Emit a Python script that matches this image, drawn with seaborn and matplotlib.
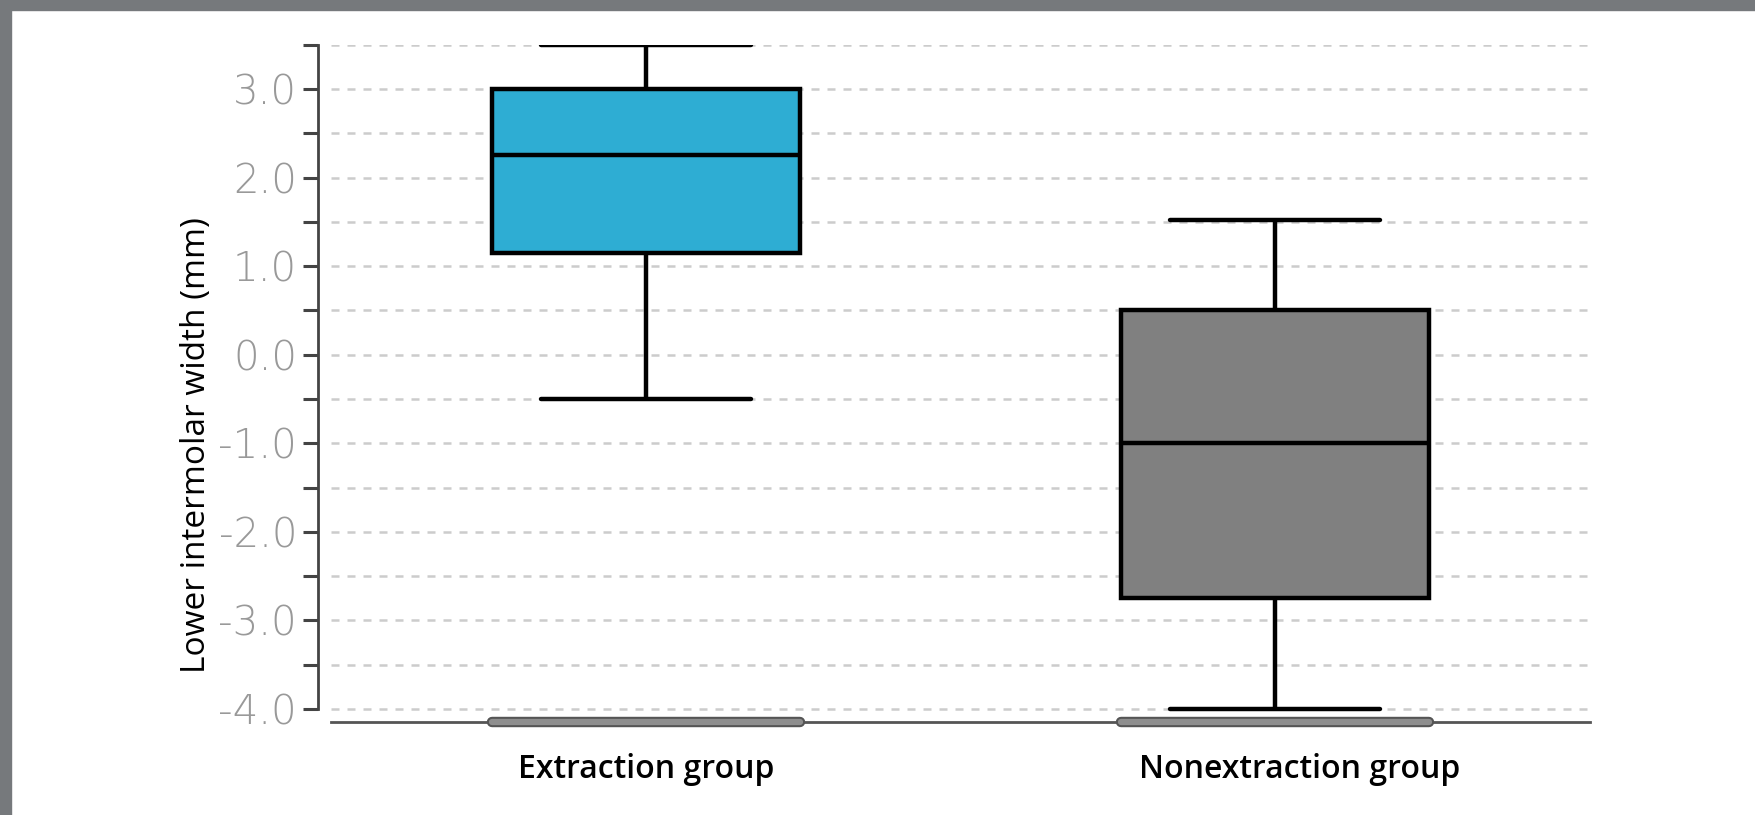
import matplotlib
matplotlib.use("Agg")
import matplotlib.pyplot as plt
import matplotlib.transforms as mtransforms
import pandas as pd
import seaborn as sns
from matplotlib.patches import Rectangle

# five-number summaries: lower whisker, Q1, median, Q3, upper whisker
groups = ["Extraction group", "Nonextraction group"]
extraction = [-0.5, 1.15, 2.25, 3.0, 3.5]
nonextraction = [-4.0, -2.75, -1.0, 0.5, 1.52]
box_colors = ["#2eadd3", "#808080"]
ytick_major = [-4.0, -3.0, -2.0, -1.0, 0.0, 1.0, 2.0, 3.0]
ytick_labels = ["-4.0", "-3.0", "-2.0", "-1.0", "0.0", "1.0", "2.0", "3.0"]
ytick_minor = [-3.5, -2.5, -1.5, -0.5, 0.5, 1.5, 2.5, 3.5]
ylabel = "Lower intermolar width (mm)"

df = pd.DataFrame({
    "group": [groups[0]] * len(extraction) + [groups[1]] * len(nonextraction),
    "value": extraction + nonextraction,
})

sns.set_style("white")
W, H = 1756, 815
fig = plt.figure(figsize=(W / 100, H / 100), dpi=100)
ax = fig.add_axes([331 / W, 1 - 726.7 / H, (1590 - 331) / W, (726.7 - 44.7) / H])

box_w = 0.49
sns.boxplot(data=df, x="group", y="value", hue="group", palette=box_colors,
            saturation=1, width=box_w, linecolor="black", linewidth=3.2, whis=1.5,
            showfliers=False, capwidths=0.334, legend=False, ax=ax)

ax.set_xlim(-0.5, 1.5)
ax.set_ylim(-4.2, 3.5)
ax.set_yticks(ytick_major)
ax.set_yticklabels(ytick_labels)
ax.set_yticks(ytick_minor, minor=True)
ax.set_axisbelow(True)
ax.yaxis.grid(True, which="both", linestyle=(0, (3.2, 3.2)), color="#cccccc", linewidth=1.8)
ax.xaxis.grid(False)

for s in ["top", "right"]:
    ax.spines[s].set_visible(False)
ax.spines["left"].set_position(("outward", 9.4))
ax.spines["left"].set_bounds(-4.0, 3.5)
ax.spines["left"].set_color("#444444")
ax.spines["left"].set_linewidth(2.0)
ax.spines["bottom"].set_position(("data", -4.15))
ax.spines["bottom"].set_color("#555555")
ax.spines["bottom"].set_linewidth(2.0)

ax.tick_params(axis="y", which="both", left=True, length=11, width=2.2, color="#444444",
               direction="out", pad=4, labelsize=29, labelcolor="#999999")
for lab in ax.get_yticklabels():
    lab.set_family(["DejaVu Sans"])
    lab.set_fontweight("light")
ax.tick_params(axis="x", length=0, pad=22)
for lab in ax.get_xticklabels():
    lab.set_family(["Open Sans", "DejaVu Sans"])
    lab.set_fontsize(23)
    lab.set_fontweight("semibold")
    lab.set_color("black")
# the second group label sits a little right of its box in the original
xlabs = ax.get_xticklabels()
xlabs[1].set_transform(xlabs[1].get_transform()
                       + mtransforms.ScaledTranslation(0.24, 0, fig.dpi_scale_trans))
ax.set_xlabel("")
ax.set_ylabel(ylabel, fontsize=24, family=["Open Sans", "DejaVu Sans"], color="black",
              fontweight="medium")
ax.yaxis.set_label_coords(-0.094, 0.413)

# flat gray bars on the base line under each group
for i in range(len(groups)):
    ax.plot([i - box_w / 2, i + box_w / 2], [-4.15, -4.15], color="#555555", lw=7.5,
            solid_capstyle="round", clip_on=False, zorder=3)
    ax.plot([i - box_w / 2, i + box_w / 2], [-4.15, -4.15], color="#8e8e8e", lw=4.5,
            solid_capstyle="round", clip_on=False, zorder=4)

# gray frame edges of the screenshot
fig.patches.append(Rectangle((0, 1 - 10 / H), 1, 10 / H, transform=fig.transFigure,
                             color="#76797c", zorder=10))
fig.patches.append(Rectangle((0, 0), 11 / W, 1, transform=fig.transFigure,
                             color="#76797c", zorder=10))

fig.savefig("out.png", dpi=100)
